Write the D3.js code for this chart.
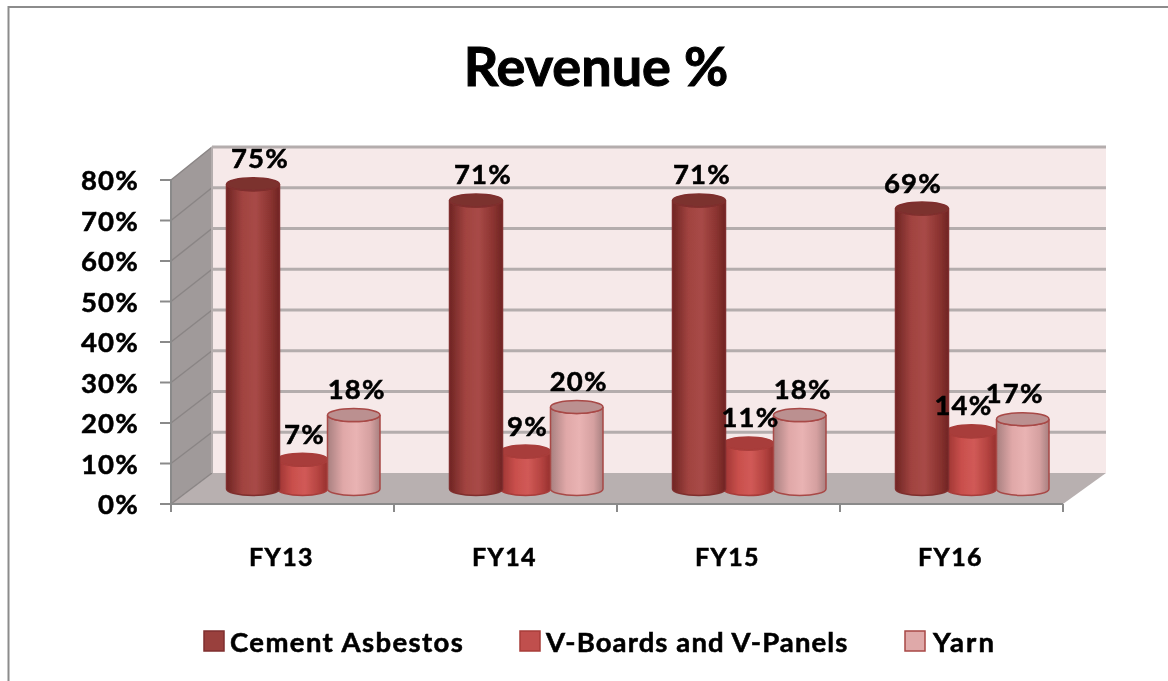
<!DOCTYPE html>
<html><head><meta charset="utf-8">
<script src="https://cdn.jsdelivr.net/npm/d3@7/dist/d3.min.js"></script>
<style>html,body{margin:0;padding:0;background:#fff}svg{display:block}text{font-family:Lato,Carlito,"Open Sans",sans-serif;font-weight:700;fill:#000;stroke:#000;stroke-width:.55px}</style>
</head><body><div id="c"></div>
<script>
const categories=["FY13","FY14","FY15","FY16"];
const seriesNames=["Cement Asbestos","V-Boards and V-Panels","Yarn"];
const cementAsbestos=[75,71,71,69];
const vBoards=[7,9,11,14];
const yarn=[18,20,18,17];
const yTicks=[0,10,20,30,40,50,60,70,80];
const seriesValues=[cementAsbestos,vBoards,yarn];

const W=1168,H=681;
const svg=d3.select("#c").append("svg").attr("width",W).attr("height",H);
const defs=svg.append("defs");
defs.append("filter").attr("id","soft").append("feGaussianBlur").attr("stdDeviation",0.6);
defs.append("filter").attr("id","softT").append("feGaussianBlur").attr("stdDeviation",0.3);

const themes=[
 {id:"a",stops:["#6f2523","#a14340","#a84a47","#8c3431","#6f2523"],top:"#7c302e",edge:"#7f2f2d",leg:"#993f3c"},
 {id:"b",stops:["#9c3432","#c94f4c","#d15a57","#b44340","#96302e"],top:"#a83c3a",edge:"#a83c3a",leg:"#c0504d"},
 {id:"c",stops:["#a88080","#e0a8a8","#e9b3b3","#d5a0a0","#a88080"],top:"#bb9090",edge:"#a84846",leg:"#dfa9a9"}];
themes.forEach(t=>{
 const g=defs.append("linearGradient").attr("id","g"+t.id);
 t.stops.forEach((c,i)=>g.append("stop").attr("offset",[0,.3,.55,.82,1][i]).attr("stop-color",c));
});

// frame
svg.append("path").attr("d",`M8.5,${H} V7 H${W}`).attr("fill","none").attr("stroke","#8c8c8c").attr("stroke-width",2);

// title
svg.append("text").attr("x",596).attr("y",86).attr("text-anchor","middle").attr("font-size",54).style("stroke-width","1px").text("Revenue %");

// scales
const yFront=d3.scaleLinear().domain([0,80]).range([504,180]);
const yBack=d3.scaleLinear().domain([0,80]).range([473,147]);
const yBar=d3.scaleLinear().domain([0,80]).range([488,164]);
const xFront=d3.scaleBand().domain(categories).range([171,1063]);

const plot=svg.append("g").attr("filter","url(#soft)");
// wall
plot.append("rect").attr("x",212).attr("y",yBack(80)).attr("width",1106-212).attr("height",yBack(0)-yBack(80)).attr("fill","#f6e9e9");
// side wall
plot.append("path").attr("d",`M171,${yFront(80)} L212,${yBack(80)} V${yBack(0)} L171,${yFront(0)} Z`).attr("fill","#a09a9a");
// floor
plot.append("path").attr("d",`M171,${yFront(0)} L212,${yBack(0)} H1106 L1063,${yFront(0)} Z`).attr("fill","#b8b0b0");
// gridlines
yTicks.forEach(t=>{
 if(t>0) plot.append("line").attr("x1",212).attr("x2",1106).attr("y1",yBack(t)).attr("y2",yBack(t)).attr("stroke","#b4adad").attr("stroke-width",3);
 plot.append("line").attr("x1",171).attr("x2",212).attr("y1",yFront(t)).attr("y2",yBack(t)).attr("stroke","#8a8585").attr("stroke-width",1.5);
});
plot.append("line").attr("x1",212).attr("x2",212).attr("y1",yBack(80)).attr("y2",yBack(0)).attr("stroke","#b4adad").attr("stroke-width",2);
// axes
const axisG=plot.append("g").attr("stroke","#8a8a8a").attr("stroke-width",2);
axisG.append("line").attr("x1",171).attr("x2",171).attr("y1",yFront(80)).attr("y2",yFront(0));
axisG.append("line").attr("x1",171).attr("x2",1063).attr("y1",yFront(0)).attr("y2",yFront(0));
yTicks.forEach(t=>axisG.append("line").attr("x1",160).attr("x2",171).attr("y1",yFront(t)).attr("y2",yFront(t)));
[...categories.map(c=>xFront(c)),1063].forEach(x=>axisG.append("line").attr("x1",x).attr("x2",x).attr("y1",yFront(0)).attr("y2",512));

// cylinders
const seriesX=[{x0:55.5,x1:108.5},{x0:106.5,x1:156.5},{x0:156.5,x1:209}];
function cyl(sel,x0,x1,v,t){
 const rx=(x1-x0)/2, ry=6.5, cx=(x0+x1)/2, top=yBar(v), bot=yBar(0)+1;
 const g=sel.append("g");
 g.append("path").attr("d",`M${x0},${top} V${bot} A${rx},${ry} 0 0 0 ${x1},${bot} V${top} A${rx},${ry} 0 0 1 ${x0},${top} Z`)
  .attr("fill",`url(#g${t.id})`).attr("stroke",t.edge).attr("stroke-width",1.5);
 g.append("ellipse").attr("cx",cx).attr("cy",top).attr("rx",rx).attr("ry",ry).attr("fill",t.top).attr("stroke",t.edge).attr("stroke-width",1.5);
}
categories.forEach((c,i)=>{
 const base=xFront(c);
 [1,0,2].forEach(s=>cyl(plot,base+seriesX[s].x0,base+seriesX[s].x1,seriesValues[s][i],themes[s]));
});

// labels
const labelNudge=[[7,7,3,-9],[2,2,2,-8],[3,2,3,-8]];
const txt=svg.append("g").attr("filter","url(#softT)");
categories.forEach((c,i)=>{
 const base=xFront(c);
 seriesValues.forEach((vals,s)=>{
  const cx=base+(seriesX[s].x0+seriesX[s].x1)/2+labelNudge[s][i];
  txt.append("text").attr("x",cx).attr("y",yBar(vals[i])-16).attr("text-anchor","middle").attr("font-size",27.5).attr("letter-spacing",1.2).text(vals[i]+"%");
 });
 txt.append("text").attr("x",base+xFront.bandwidth()/2-1).attr("y",566).attr("text-anchor","middle").attr("font-size",25).attr("letter-spacing",1.4).text(c);
});
yTicks.forEach(t=>txt.append("text").attr("x",139).attr("y",yFront(t)+10).attr("text-anchor","end").attr("font-size",27.5).attr("letter-spacing",1.2).text(t+"%"));

// legend
const legX=[204,520,905], legTextX=[230,546,933], legSpacing=[1.4,1.1,2.2];
seriesNames.forEach((n,i)=>{
 plot.append("rect").attr("x",legX[i]).attr("y",631).attr("width",20).attr("height",20).attr("fill",themes[i].leg).attr("stroke",themes[i].edge).attr("stroke-width",1.5);
 txt.append("text").attr("x",legTextX[i]).attr("y",652).attr("font-size",27.5).attr("letter-spacing",legSpacing[i]).text(n);
});
</script></body></html>
